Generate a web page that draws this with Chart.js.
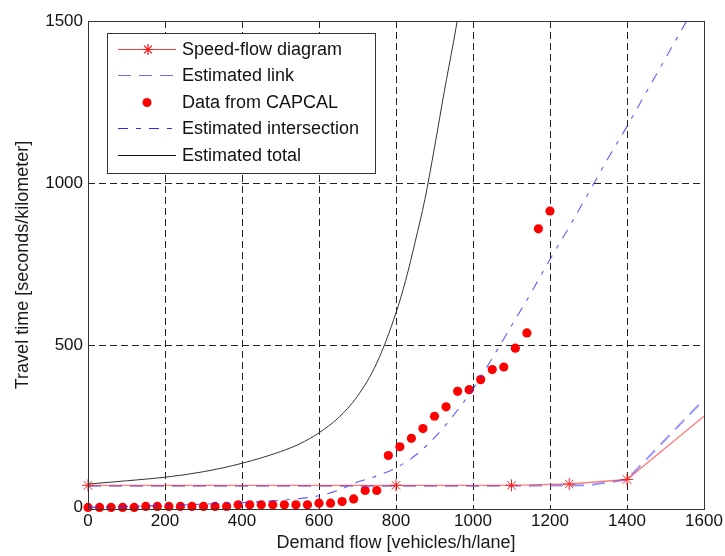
<!DOCTYPE html>
<html>
<head>
<meta charset="utf-8">
<script src="https://cdn.jsdelivr.net/npm/chart.js@4.4.1/dist/chart.umd.min.js"></script>
<style>
  html, body { margin: 0; padding: 0; background: #fff; }
  #wrap { width: 725px; height: 556px; }
</style>
</head>
<body>
<div id="wrap"><canvas id="myChart" width="725" height="556"></canvas></div>
<script>
// speed-flow diagram (piecewise)
var speedFlowX = [0, 800, 1100, 1250, 1400, 1600];
var speedFlowY = [68, 68, 68, 72, 86, 281];

// estimated link travel time
var linkX = [0, 1000, 1300, 1400, 1600];
var linkY = [66, 66, 68, 86, 333];

// CAPCAL data points
var capcalX = [0, 30, 60, 90, 120, 150, 180, 210, 240, 270, 300, 330, 360, 390, 420,
    450, 480, 510, 540, 570, 600, 630, 660, 690, 720, 750, 780, 810, 840, 870, 900,
    930, 960, 990, 1020, 1050, 1080, 1110, 1140, 1170, 1200];
var capcalY = [0, 0, 0, 0, 0, 3, 3, 3, 3, 3, 3, 3, 3, 8, 8,
    8, 8, 8, 8, 8, 13, 13, 18, 26, 52, 52, 160, 187, 213, 243, 281,
    310, 358, 363, 394, 425, 433, 491, 538, 859, 914];

// estimated intersection delay
var interX = [0, 100, 200, 300, 400, 500, 600, 650, 700, 750, 800, 850, 900, 950, 1000,
    1050, 1100, 1150, 1200, 1250, 1300, 1350, 1400, 1450, 1500, 1550, 1600];
var interY = [0, 3, 6, 10, 15, 22, 36, 53, 78, 97, 122, 160, 215, 285, 365,
    460, 560, 660, 765, 865, 970, 1075, 1175, 1280, 1385, 1490, 1595];

// estimated total
var totalX = [0, 100, 200, 300, 400, 500, 550, 600, 650, 700, 750, 800, 825, 850, 875, 900, 925, 950, 975];
var totalY = [72, 82, 93, 110, 136, 172, 196, 230, 276, 343, 445, 600, 700, 820, 950, 1110, 1280, 1440, 1610];

var xTicks = [0, 200, 400, 600, 800, 1000, 1200, 1400, 1600];
var yTicks = [0, 500, 1000, 1500];

function pairs(xs, ys) {
    return xs.map(function (x, i) { return {x: x, y: ys[i]}; });
}

var FONT = '"Liberation Sans", Arial, sans-serif';

var legendItems = [
    {text: 'Speed-flow diagram', kind: 'star', color: 'rgba(255,30,30,0.85)'},
    {text: 'Estimated link', kind: 'line', color: 'rgba(70,70,255,0.8)', dash: [13, 8]},
    {text: 'Data from CAPCAL', kind: 'dot', color: '#ff0000'},
    {text: 'Estimated intersection', kind: 'line', color: 'rgba(20,20,255,0.9)', dash: [10, 8, 5, 8]},
    {text: 'Estimated total', kind: 'line', color: '#111', dash: []}
];

function drawStar(ctx, x, y, r) {
    ctx.beginPath();
    for (var k = 0; k < 4; k++) {
        var a = k * Math.PI / 4;
        ctx.moveTo(x - r * Math.cos(a), y - r * Math.sin(a));
        ctx.lineTo(x + r * Math.cos(a), y + r * Math.sin(a));
    }
    ctx.stroke();
}

var frameAndLegend = {
    id: 'frameAndLegend',
    afterDraw: function (chart) {
        var ctx = chart.ctx, a = chart.chartArea;
        ctx.save();
        ctx.setLineDash([]);
        ctx.strokeStyle = '#333';
        ctx.lineWidth = 1;
        ctx.strokeRect(a.left + 0.5, a.top + 0.5, a.right - a.left, a.bottom - a.top);

        // legend box
        var bx = 107, by = 33, bw = 268, bh = 140;
        ctx.fillStyle = '#fff';
        ctx.fillRect(bx, by, bw, bh);
        ctx.strokeStyle = '#333';
        ctx.strokeRect(bx + 0.5, by + 0.5, bw, bh);

        var rows = [49, 75, 102, 128, 155];
        ctx.font = '18px ' + FONT;
        ctx.textBaseline = 'middle';
        legendItems.forEach(function (it, i) {
            var y = rows[i] + 0.5;
            ctx.strokeStyle = it.color;
            ctx.fillStyle = it.color;
            ctx.lineWidth = 1.2;
            if (it.kind === 'star') {
                ctx.setLineDash([]);
                ctx.beginPath();
                ctx.moveTo(118, y);
                ctx.lineTo(176, y);
                ctx.stroke();
                ctx.strokeStyle = '#ff1010';
                drawStar(ctx, 148, y, 5.5);
            } else if (it.kind === 'line') {
                ctx.setLineDash(it.dash);
                ctx.beginPath();
                ctx.moveTo(118, y);
                ctx.lineTo(176, y);
                ctx.stroke();
            } else {
                ctx.beginPath();
                ctx.arc(147, y, 4.5, 0, Math.PI * 2);
                ctx.fill();
            }
            ctx.setLineDash([]);
            ctx.fillStyle = '#111';
            ctx.fillText(it.text, 182, rows[i] + 1);
        });
        ctx.restore();
    }
};

var ctx = document.getElementById('myChart');
var chart = new Chart(ctx, {
    type: 'scatter',
    data: {
        datasets: [
            {
                label: 'Estimated total',
                data: pairs(totalX, totalY),
                showLine: true,
                borderColor: '#333',
                borderWidth: 1,
                pointRadius: 0,
                cubicInterpolationMode: 'monotone'
            },
            {
                label: 'Speed-flow diagram',
                data: pairs(speedFlowX, speedFlowY),
                showLine: true,
                borderColor: 'rgba(255,40,40,0.6)',
                borderWidth: 1.4,
                pointStyle: 'star',
                pointRadius: [6, 6, 6, 6, 6, 0],
                pointBorderColor: '#ff2020',
                pointBorderWidth: 1,
                clip: false
            },
            {
                label: 'Estimated link',
                data: pairs(linkX, linkY),
                showLine: true,
                borderColor: 'rgba(80,80,255,0.6)',
                borderWidth: 2,
                borderDash: [13, 8],
                pointRadius: 0
            },
            {
                label: 'Estimated intersection',
                data: pairs(interX, interY),
                showLine: true,
                borderColor: 'rgba(40,40,255,0.75)',
                borderWidth: 1.1,
                borderDash: [10, 8, 4, 8],
                pointRadius: 0,
                cubicInterpolationMode: 'monotone'
            },
            {
                label: 'Data from CAPCAL',
                data: pairs(capcalX, capcalY),
                showLine: false,
                pointStyle: 'circle',
                pointRadius: 4.6,
                pointBackgroundColor: '#ff0000',
                pointBorderWidth: 0,
                clip: false
            }
        ]
    },
    options: {
        responsive: false,
        animation: false,
        events: [],
        layout: {padding: {top: 21, right: 21, left: 0, bottom: 0}},
        plugins: {
            legend: {display: false},
            tooltip: {enabled: false}
        },
        scales: {
            x: {
                type: 'linear',
                min: 0,
                max: 1600,
                afterFit: function (s) { s.height = 47; },
                afterBuildTicks: function (s) {
                    s.ticks = xTicks.map(function (v) { return {value: v}; });
                },
                ticks: {
                    color: '#111',
                    font: {family: FONT, size: 17},
                    padding: 2,
                    maxRotation: 0,
                    autoSkip: false,
                    callback: function (v) { return String(v); }
                },
                grid: {
                    drawTicks: false,
                    color: function (c) {
                        var v = c.tick && c.tick.value;
                        return (v === 0 || v === 1600) ? 'rgba(0,0,0,0)' : '#222';
                    }
                },
                border: {display: false, dash: [7, 4]},
                title: {
                    display: true,
                    text: 'Demand flow [vehicles/h/lane]',
                    color: '#1a1a1a',
                    font: {family: FONT, size: 18},
                    padding: {top: 0, bottom: 2}
                }
            },
            y: {
                type: 'linear',
                min: -5,
                max: 1500,
                afterFit: function (s) { s.width = 88; },
                afterBuildTicks: function (s) {
                    s.ticks = yTicks.map(function (v) { return {value: v}; });
                },
                ticks: {
                    color: '#111',
                    font: {family: FONT, size: 17},
                    padding: 5,
                    callback: function (v) { return String(v); }
                },
                grid: {
                    drawTicks: false,
                    color: function (c) {
                        var v = c.tick && c.tick.value;
                        return (v === 0 || v === 1500) ? 'rgba(0,0,0,0)' : '#222';
                    }
                },
                border: {display: false, dash: [7, 4]},
                title: {
                    display: true,
                    text: 'Travel time [seconds/kilometer]',
                    color: '#1a1a1a',
                    font: {family: FONT, size: 18},
                    padding: {top: 12, bottom: 0}
                }
            }
        }
    },
    plugins: [frameAndLegend]
});
</script>
</body>
</html>
